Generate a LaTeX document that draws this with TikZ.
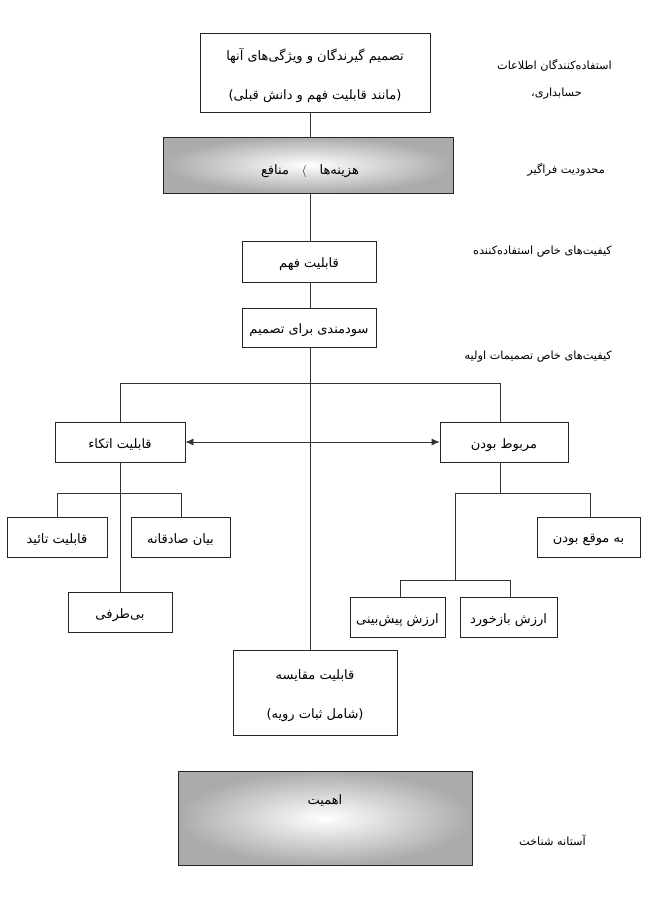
\documentclass[tikz,border=0pt]{standalone}
\usepackage{fontspec}
\setmainfont{DejaVu Sans}
\newfontfamily\arabicfont[Script=Arabic]{DejaVu Sans}
\TeXXeTstate=1
\newcommand{\ar}[1]{{\arabicfont\beginR #1\endR}}
\newcommand{\dn}[1]{\raisebox{-3pt}[\height][\depth]{#1}}
\usetikzlibrary{arrows.meta}
\begin{document}
\begin{tikzpicture}[x=1pt,y=-1pt,
  font=\fontsize{13}{15}\selectfont,
  bx/.style={draw=black!85, line width=0.8pt, fill=white, inner sep=0pt, align=center},
  gbx/.style={draw=black!85, line width=0.8pt, inner sep=0pt, shade, shading=radial, inner color=white, outer color=black!33},
  ln/.style={draw=black!80, line width=0.8pt},
  lbl/.style={inner sep=0pt, align=center, font=\fontsize{11.3}{13}\selectfont}]
\useasboundingbox (0,0) rectangle (660,900);

% boxes
\node[bx, minimum width=230, minimum height=79] (top) at (315,72.5)
  {\dn{\ar{تصمیم گیرندگان و ویژگی‌های آنها}}\\[24pt]\dn{\ar{(مانند قابلیت فهم و دانش قبلی)}}};
\node[gbx, minimum width=290, minimum height=56] (cons) at (308,165) {};
\node[inner sep=0pt] (consT) at (310,171) {\ar{منافع}\quad$\langle$\quad\ar{هزینه‌ها}};
\node[bx, minimum width=134, minimum height=41] (fahm) at (309,261.5) {\dn{\ar{قابلیت فهم}}};
\node[bx, minimum width=134, minimum height=39] (sud) at (309,327.5) {\dn{\ar{سودمندی برای تصمیم}}};
\node[bx, minimum width=130, minimum height=40] (etka) at (120,442) {\dn{\ar{قابلیت اتکاء}}};
\node[bx, minimum width=128, minimum height=40] (marbut) at (504,442) {\dn{\ar{مربوط بودن}}};
\node[bx, minimum width=100, minimum height=40] (taeed) at (57,537) {\dn{\ar{قابلیت تائید}}};
\node[bx, minimum width=99, minimum height=40] (bayan) at (180.5,537) {\dn{\ar{بیان صادقانه}}};
\node[bx, minimum width=104, minimum height=40] (bitaraf) at (120,612) {\dn{\ar{بی‌طرفی}}};
\node[bx, minimum width=103, minimum height=40] (mogh) at (588.5,537) {\dn{\ar{به موقع بودن}}};
\node[bx, minimum width=95, minimum height=40] (pish) at (397.5,617) {\dn{\ar{ارزش پیش‌بینی}}};
\node[bx, minimum width=97, minimum height=40] (baz) at (508.5,617) {\dn{\ar{ارزش بازخورد}}};
\node[bx, minimum width=164, minimum height=85] (moq) at (315,692.5)
  {\dn{\ar{قابلیت مقایسه}}\\[24pt]\dn{\ar{(شامل ثبات رویه)}}};
\node[gbx, minimum width=294, minimum height=94] (aham) at (325,818) {};
\node[inner sep=0pt] (ahamT) at (325,801) {\ar{اهمیت}};

% right labels
\node[lbl, anchor=east] (l1) at (612,65) {\ar{استفاده‌کنندگان اطلاعات}};
\node[lbl, anchor=east] (l2) at (582,94) {\ar{حسابداری،}};
\node[lbl, anchor=east] (l3) at (605,170) {\ar{محدودیت فراگیر}};
\node[lbl, anchor=east] (l4) at (612,252) {\ar{کیفیت‌های خاص استفاده‌کننده}};
\node[lbl, anchor=east] (l5) at (612,357) {\ar{کیفیت‌های خاص تصمیمات اولیه}};
\node[lbl, anchor=east] (l6) at (586,840) {\ar{آستانه شناخت}};

% helper coordinates
\coordinate (c1) at (310,112);
\coordinate (hl) at (120,383);
\coordinate (hr) at (500,383);
\coordinate (lL) at (57,493);
\coordinate (lR) at (181,493);
\coordinate (rL) at (455,493);
\coordinate (rR) at (590,493);
\coordinate (rM) at (500,493);
\coordinate (sL) at (400,580);
\coordinate (sR) at (510,580);
\coordinate (sM) at (455,580);

% connectors
\draw[ln] (c1) -- (c1 |- cons.north);
\draw[ln] (c1 |- cons.south) -- (c1 |- fahm.north);
\draw[ln] (c1 |- fahm.south) -- (c1 |- sud.north);
\draw[ln] (c1 |- sud.south) -- (c1 |- moq.north);
\draw[ln] (hl |- etka.north) -- (hl) -- (hr) -- (hr |- marbut.north);
\draw[ln, {Latex[length=8pt,width=7pt]}-{Latex[length=8pt,width=7pt]}] (etka.east) -- (marbut.west);
\draw[ln] (hl |- etka.south) -- (hl |- bitaraf.north);
\draw[ln] (lL |- taeed.north) -- (lL) -- (lR) -- (lR |- bayan.north);
\draw[ln] (hr |- marbut.south) -- (rM);
\draw[ln] (rL) -- (rR) -- (rR |- mogh.north);
\draw[ln] (rL) -- (sM);
\draw[ln] (sL |- pish.north) -- (sL) -- (sR) -- (sR |- baz.north);
\end{tikzpicture}
\end{document}
